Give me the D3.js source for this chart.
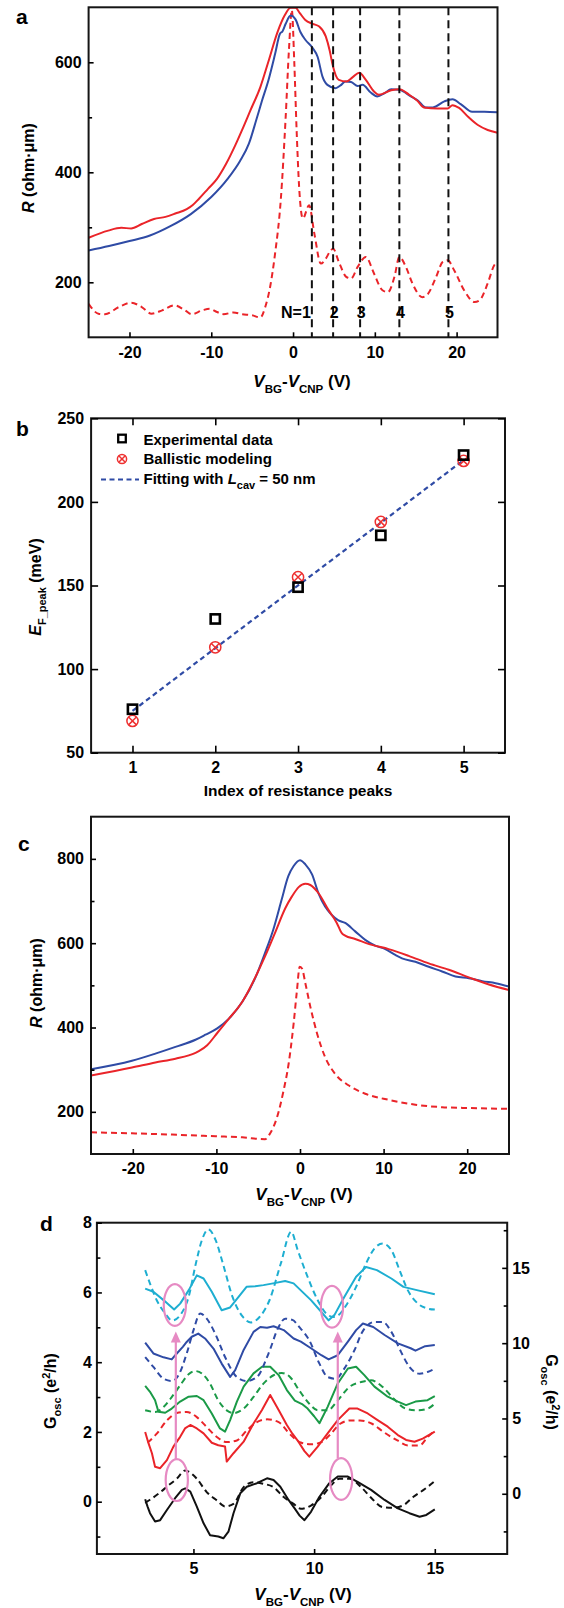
<!DOCTYPE html>
<html>
<head>
<meta charset="utf-8">
<script src="https://cdn.jsdelivr.net/npm/d3@7"></script>
<style>
  html, body { margin: 0; padding: 0; background: #fff; }
  svg { display: block; font-family: "Liberation Sans", Arial, Helvetica, sans-serif; font-weight: bold; }
</style>
</head>
<body>
<svg id="fig" width="564" height="1608"></svg>
<script>
// ---------- panel a: R vs gate voltage, L = 50 nm cavity ----------
const aMeasured = [[-25,258],[-22.5,266],[-20,275],[-17.5,285],[-15,302],[-12.5,324],[-10,355],[-8,388],[-6.5,420],[-5.4,452],[-4.5,495],[-3.8,530],[-3.0,568],[-2.2,615],[-1.6,652],[-1.3,656],[-0.9,670],[-0.3,685],[0.3,678],[0.9,655],[1.5,641],[2.4,626],[3.0,610],[3.6,574],[4.2,559],[5.2,553],[5.8,558],[6.4,565],[7.1,564],[7.9,557],[8.5,559],[9.5,545],[10.3,538],[11.2,544],[12,551],[13,550],[14.4,538],[15.3,530],[16.2,518],[17.1,518],[18.5,529],[19.5,533],[20.5,524],[21.9,510],[23.4,510],[25,509]];
const aModelTotal = [[-25,281],[-22.6,294],[-21,299],[-19.8,298],[-18.5,306],[-17,315],[-15.6,319],[-14.4,325],[-13,333],[-12.3,340],[-11.5,352],[-10.4,370],[-9.3,388],[-8.2,415],[-7.1,448],[-6.2,478],[-5.2,513],[-4,555],[-3,602],[-1.9,655],[-1,686],[-0.3,699],[0.3,699],[0.8,690],[1.5,677],[2.4,670],[3.2,665],[4.0,647],[4.5,620],[4.8,598],[5.6,568],[6.5,565],[7.3,573],[8.1,581],[8.9,568],[9.9,547],[10.5,541],[12,549],[13,551],[14.2,541],[15.2,530],[16,518],[17.7,516],[18.9,516],[19.5,522],[20.3,517],[21.4,501],[22.6,486],[23.8,477],[25,472]];
const aModelCavity = [[-25,161],[-23.8,143],[-23,142],[-21.3,155],[-19.8,163],[-18.5,155],[-17.3,143],[-16,149],[-14.5,158],[-13.2,149],[-12.4,142],[-11.1,149],[-10.2,152],[-9.3,146],[-8.5,142],[-7.3,145],[-6.2,142],[-5,140],[-4,136],[-3.4,155],[-2.8,192],[-2.2,252],[-1.5,350],[-0.9,501],[-0.5,623],[-0.15,695],[0.15,600],[0.45,471],[0.74,374],[1.2,316],[1.96,340],[2.6,289],[3.4,234],[4.0,243],[4.6,258],[4.9,261],[5.6,237],[6.5,210],[7.1,207],[7.9,228],[8.9,246],[9.9,216],[10.9,186],[11.6,182],[12.4,210],[13,246],[13.8,228],[14.6,198],[15.8,173],[16.5,179],[17.5,210],[18.3,237],[18.9,240],[19.7,222],[20.9,186],[22.2,164],[22.8,167],[23.8,198],[24.6,231],[25,237]];
const aPeakVolts = [2.3, 4.9, 8.2, 13.0, 19.0];
const aPeakLabels = ["N=1", "2", "3", "4", "5"];
const aYTicks = [200, 400, 600];
const aYMinor = [300, 500];
const aXTicks = [-20, -10, 0, 10, 20];

// ---------- panel b: peak Fermi energies ----------
const bIndex = [1, 2, 3, 4, 5];
const bExperiment = [76, 130, 149, 180, 228];
const bBallistic = [69, 113, 155, 188, 224.5];
const bFit = [[1, 75], [5, 225]];
const bYTicks = [50, 100, 150, 200, 250];

// ---------- panel c: R vs gate voltage, no cavity ----------
const cMeasured = [[-25,301],[-20.1,321],[-17.3,338],[-14.9,354],[-12.5,371],[-11.3,383],[-9.9,398],[-8.5,421],[-6.9,461],[-5.3,520],[-4.2,576],[-3.2,632],[-2.2,703],[-1.4,759],[-0.76,783],[0,797],[0.64,787],[1.44,763],[2.2,719],[3.0,687],[3.8,667],[4.6,654],[5.4,648],[6.6,628],[7.8,608],[9,594],[10.2,586],[11.4,572],[12.2,564],[13.8,556],[15.4,544],[17,533],[18.6,521],[20.2,517],[21.8,510],[23.4,505],[25,497]];
const cModelTotal = [[-25,286],[-20.1,305],[-17.3,317],[-14.9,326],[-12.5,340],[-12.1,344],[-11.1,358],[-9.9,387],[-8.5,421],[-6.9,461],[-5.3,521],[-4.2,568],[-3.0,624],[-1.76,683],[-0.96,711],[-0.16,733],[0.64,741],[1.24,738],[2.2,719],[3.4,679],[4.4,648],[5.0,624],[5.4,618],[6.6,610],[8.6,596],[10.6,586],[13,570],[15.4,552],[17.8,537],[20.2,519],[22.6,502],[25,489]];
const cModelJunction = [[-25,151.5],[-20.1,149],[-15.3,146],[-10.1,142],[-6.9,139.6],[-4.2,135],[-3.6,148],[-2.75,187],[-1.96,251],[-1.36,314],[-0.76,410],[-0.36,489],[-0.04,544],[0.24,540],[0.64,505],[1.24,449],[2.04,386],[3.0,330],[4.2,290],[5.8,263],[7.8,243],[10.6,228.5],[13.8,217],[17,211],[20.2,209],[25,207]];
const cYTicks = [200, 400, 600, 800];
const cYMinor = [300, 500, 700];

// ---------- panel d: oscillating conductance (solid: left axis, dashed: right axis) ----------
const dCyanExp = [[3.0,6.11],[3.34,6.02],[3.76,5.78],[4.2,5.51],[4.45,5.68],[4.8,6.06],[5.14,6.49],[5.42,6.40],[5.76,6.02],[6.17,5.49],[6.52,5.57],[6.87,5.87],[7.2,6.16],[7.56,6.18],[7.9,6.21],[8.3,6.26],[8.8,6.33],[9.15,6.26],[9.45,6.06],[9.87,5.78],[10.3,5.44],[10.6,5.2],[10.84,5.35],[11.25,5.87],[11.74,6.45],[12.15,6.73],[12.6,6.64],[13.2,6.40],[13.7,6.16],[14.3,6.06],[15,5.95]];
const dCyanSim = [[3.0,14.85],[3.2,13.96],[3.48,12.85],[3.83,11.97],[4.12,11.5],[4.5,11.97],[4.8,13.07],[5.1,15.29],[5.35,16.84],[5.62,17.55],[5.92,16.84],[6.22,15.29],[6.62,13.07],[7.05,11.74],[7.38,11.38],[7.74,11.74],[8.15,12.85],[8.62,15.29],[9.05,17.4],[9.32,16.18],[9.73,14.4],[10.15,12.85],[10.5,11.97],[10.8,11.74],[11.0,11.85],[11.33,12.52],[11.74,13.74],[12.15,15.29],[12.5,16.29],[12.84,16.62],[13.2,16.18],[13.54,14.85],[13.88,13.52],[14.3,12.63],[14.7,12.3],[15,12.23]];
const dBlueExp = [[3.0,4.56],[3.34,4.25],[3.76,4.14],[4.1,4.08],[4.31,4.25],[4.56,4.44],[4.72,4.58],[4.93,4.73],[5.2,4.82],[5.48,4.68],[5.83,4.39],[6.17,3.96],[6.52,3.58],[6.73,3.77],[7.08,4.35],[7.49,4.87],[7.77,5.01],[8.05,4.99],[8.32,5.03],[8.74,4.92],[9.15,4.68],[9.45,4.59],[9.87,4.4],[10.3,4.2],[10.6,4.08],[10.98,4.2],[11.4,4.59],[11.74,4.92],[12.02,5.11],[12.45,5.01],[12.92,4.78],[13.47,4.54],[14.0,4.4],[14.2,4.33],[14.6,4.46],[15,4.49]];
const dBlueSim = [[3.0,9.08],[3.34,8.42],[3.76,7.64],[4.1,7.49],[4.38,7.87],[4.72,9.31],[5.0,10.85],[5.28,11.97],[5.55,11.63],[5.9,10.64],[6.31,9.08],[6.8,7.75],[7.21,7.49],[7.63,7.75],[8.11,9.31],[8.53,11.08],[8.8,11.63],[9.1,11.55],[9.38,11.08],[9.8,10.19],[10.22,8.64],[10.56,7.75],[10.9,7.64],[11.25,8.31],[11.67,9.53],[12.0,10.75],[12.5,11.41],[12.84,11.41],[13.2,10.75],[13.6,9.42],[13.95,8.42],[14.37,7.97],[14.7,8.09],[15,8.31]];
const dGreenExp = [[3.0,3.32],[3.2,3.15],[3.41,2.91],[3.55,2.58],[3.83,2.55],[4.1,2.67],[4.45,2.87],[4.8,3.01],[5.14,3.03],[5.42,2.91],[5.76,2.53],[6.1,2.1],[6.31,2.01],[6.52,2.34],[6.8,2.87],[7.08,3.3],[7.49,3.68],[7.84,3.87],[8.18,3.87],[8.53,3.63],[8.87,3.2],[9.2,2.9],[9.5,2.8],[9.73,2.67],[10.0,2.45],[10.22,2.25],[10.56,2.72],[10.98,3.39],[11.4,3.82],[11.74,3.87],[12.08,3.63],[12.5,3.3],[13.05,3.01],[13.47,2.87],[13.81,2.77],[14.2,2.87],[14.7,2.91],[15,3.03]];
const dGreenSim = [[3.0,5.54],[3.41,5.43],[3.76,5.76],[4.1,6.42],[4.45,7.2],[4.8,7.93],[5.07,8.15],[5.35,7.98],[5.69,7.31],[6.03,6.2],[6.38,5.54],[6.66,5.36],[7.08,5.65],[7.49,6.43],[7.9,7.31],[8.32,7.87],[8.66,8.02],[9.0,7.76],[9.38,6.87],[9.8,5.98],[10.15,5.54],[10.56,5.54],[10.98,6.2],[11.46,7.09],[11.95,7.42],[12.36,7.53],[12.84,7.09],[13.3,6.31],[13.8,5.65],[14.3,5.54],[14.7,5.65],[15,5.98]];
const dRedExp = [[3.0,2.0],[3.14,1.67],[3.28,1.39],[3.41,1.0],[3.62,0.96],[3.9,1.19],[4.17,1.58],[4.45,1.86],[4.65,2.1],[4.87,2.2],[5.14,2.1],[5.42,1.96],[5.76,1.69],[6.03,1.62],[6.31,1.58],[6.38,1.15],[6.66,1.39],[7.08,1.72],[7.49,2.24],[7.84,2.63],[8.18,3.06],[8.53,2.63],[8.87,2.2],[9.1,1.95],[9.35,1.72],[9.6,1.45],[9.8,1.29],[10.15,1.58],[10.56,1.96],[10.98,2.34],[11.46,2.67],[11.8,2.67],[12.22,2.53],[12.63,2.34],[13.05,2.15],[13.47,1.91],[13.81,1.77],[14.16,1.72],[14.5,1.81],[15,2.01]];
const dRedSim = [[3.1,3.4],[3.48,3.99],[3.9,4.87],[4.31,5.36],[4.72,5.43],[5.14,5.09],[5.55,4.43],[5.97,3.77],[6.38,3.43],[6.8,3.54],[7.21,4.21],[7.63,4.76],[8.05,4.94],[8.53,4.76],[9.0,3.95],[9.45,3.4],[9.87,3.28],[10.3,3.43],[10.7,3.99],[11.08,4.65],[11.5,4.87],[11.9,4.87],[12.4,4.65],[12.88,4.1],[13.45,3.54],[13.9,3.21],[14.37,3.21],[14.7,3.76],[15,4.21]];
const dBlackExp = [[3.0,0.07],[3.1,-0.14],[3.2,-0.33],[3.41,-0.57],[3.62,-0.53],[3.9,-0.24],[4.24,0.1],[4.52,0.34],[4.66,0.38],[4.87,0.29],[5.14,-0.14],[5.42,-0.62],[5.69,-0.96],[6.03,-1.0],[6.24,-1.05],[6.45,-0.86],[6.66,-0.33],[6.94,0.24],[7.21,0.43],[7.63,0.53],[8.05,0.67],[8.32,0.62],[8.6,0.43],[8.94,0.05],[9.2,-0.2],[9.4,-0.4],[9.6,-0.53],[9.87,-0.29],[10.22,0.14],[10.63,0.53],[10.98,0.72],[11.4,0.72],[11.8,0.57],[12.36,0.34],[12.92,0.05],[13.47,-0.19],[13.95,-0.33],[14.37,-0.43],[14.65,-0.38],[15,-0.22]];
const dBlackSim = [[3.0,-0.6],[3.2,-0.4],[3.55,0],[3.96,0.55],[4.31,1.0],[4.66,1.55],[4.87,1.4],[5.14,1.0],[5.55,0.11],[5.97,-0.44],[6.31,-0.84],[6.66,-0.67],[7.08,0.44],[7.49,0.77],[7.9,0.66],[8.32,0.44],[8.74,-0.22],[9.15,-0.67],[9.45,-1.0],[9.87,-0.78],[10.3,-0.22],[10.7,0.55],[11.05,1.0],[11.46,1.0],[11.95,0.44],[12.4,-0.33],[12.84,-0.89],[13.27,-0.93],[13.68,-0.78],[14.1,-0.22],[14.6,0.33],[15,0.84]];
// ring centres (V, left-axis units) and arrows (V, from, to) marking the tracked minima
const dRings = [[4.23, 5.64], [4.31, 0.62], [10.74, 5.59], [11.12, 0.65]];
const dArrows = [[4.27, 1.22, 4.88], [10.98, 1.25, 4.88]];
const dRingSize = [0.46, 0.6];
const dLeftTicks = [0, 2, 4, 6, 8];
const dLeftMinor = [-1, 1, 3, 5, 7];
const dRightTicks = [0, 5, 10, 15];
const dRightMinor = [-2.5, 2.5, 7.5, 12.5, 17.5];
const dXTicks = [5, 10, 15];

// ---------- drawing ----------
const FONT = '"Liberation Sans", Arial, Helvetica, sans-serif';
const RED = "#ea2429", BLUE = "#2f4ba5", CYAN = "#1eaed1", GREEN = "#1b9a47", BLACK = "#111", PINK = "#e68ac3";
const svg = d3.select("#fig");
svg.append("rect").attr("width", 564).attr("height", 1608).attr("fill", "#fff");

function plotArea(name, b) {
  svg.append("clipPath").attr("id", name).append("rect")
    .attr("x", b.x0).attr("y", b.y0).attr("width", b.x1 - b.x0).attr("height", b.y1 - b.y0);
  return svg.append("g").attr("clip-path", `url(#${name})`);
}
function drawFrame(b) {
  svg.append("rect").attr("x", b.x0).attr("y", b.y0)
    .attr("width", b.x1 - b.x0).attr("height", b.y1 - b.y0)
    .attr("fill", "none").attr("stroke", "#151515").attr("stroke-width", 2);
}
function styleAxis(g) {
  g.attr("font-family", FONT).attr("font-size", 16).attr("font-weight", "bold").attr("color", "#000");
  g.select(".domain").remove();
  g.selectAll(".tick line").attr("stroke-width", 1.6);
}
const fmt = d => String(d);
function axisAt(gen, tx, ty) {
  svg.append("g").attr("transform", `translate(${tx},${ty})`).call(gen).call(styleAxis);
}
function panelLetter(t, x, y) {
  svg.append("text").attr("x", x).attr("y", y).attr("font-size", 21).text(t);
}
function gateTitle(x, y) {
  const t = svg.append("text").attr("x", x).attr("y", y).attr("text-anchor", "middle").attr("font-size", 17);
  t.append("tspan").attr("font-style", "italic").text("V");
  t.append("tspan").attr("font-size", 11.5).attr("dy", 6).text("BG");
  t.append("tspan").attr("dy", -6).text("-");
  t.append("tspan").attr("font-style", "italic").text("V");
  t.append("tspan").attr("font-size", 11.5).attr("dy", 6).text("CNP");
  t.append("tspan").attr("dy", -6).text(" (V)");
}
function resistanceTitle(x, y) {
  const t = svg.append("text").attr("transform", `translate(${x},${y}) rotate(-90)`)
    .attr("text-anchor", "middle").attr("font-size", 16);
  t.append("tspan").attr("font-style", "italic").text("R");
  t.append("tspan").text(" (ohm\u00b7\u03bcm)");
}
function conductanceTitle(x, y, angle) {
  const t = svg.append("text").attr("transform", `translate(${x},${y}) rotate(${angle})`)
    .attr("text-anchor", "middle").attr("font-size", 16);
  t.append("tspan").text("G");
  t.append("tspan").attr("font-size", 11).attr("dy", 5).text("osc");
  t.append("tspan").attr("dy", -5).text(" (e");
  t.append("tspan").attr("font-size", 11).attr("dy", -6).text("2");
  t.append("tspan").attr("dy", 6).text("/h)");
}
function curve(g, data, x, y, color, dashed, smooth) {
  const line = d3.line().x(d => x(d[0])).y(d => y(d[1]))
    .curve(smooth ? d3.curveMonotoneX : d3.curveLinear);
  g.append("path").datum(data).attr("d", line).attr("fill", "none")
    .attr("stroke", color).attr("stroke-width", 2)
    .attr("stroke-linejoin", "round")
    .attr("stroke-dasharray", dashed ? "6,4" : null);
}

// ===== panel a =====
{
  const b = { x0: 88.6, x1: 497.5, y0: 7.3, y1: 337.3 };
  const x = d3.scaleLinear().domain([-25, 25]).range([b.x0, b.x1]);
  const y = d3.scaleLinear().domain([100, 700]).range([b.y1, b.y0]);
  const g = plotArea("clipA", b);
  curve(g, aModelCavity, x, y, RED, true, true);
  curve(g, aMeasured, x, y, BLUE, false, true);
  curve(g, aModelTotal, x, y, RED, false, true);
  g.selectAll("line.peak").data(aPeakVolts).join("line").attr("class", "peak")
    .attr("x1", d => x(d)).attr("x2", d => x(d)).attr("y1", b.y0).attr("y2", b.y1)
    .attr("stroke", "#111").attr("stroke-width", 2).attr("stroke-dasharray", "8,5");
  svg.selectAll("text.peaklab").data(aPeakVolts).join("text").attr("class", "peaklab")
    .attr("x", (d, i) => i === 0 ? x(d) - 1 : x(d) + 1)
    .attr("y", y(136))
    .attr("text-anchor", (d, i) => i === 0 ? "end" : "middle")
    .attr("font-size", 16)
    .text((d, i) => aPeakLabels[i]);
  drawFrame(b);
  axisAt(d3.axisLeft(y).tickValues(aYTicks).tickFormat(fmt).tickSizeInner(-5).tickSizeOuter(0).tickPadding(7), b.x0, 0);
  axisAt(d3.axisLeft(y).tickValues(aYMinor).tickFormat("").tickSizeInner(-3.5).tickSizeOuter(0), b.x0, 0);
  axisAt(d3.axisBottom(x).tickValues(aXTicks).tickFormat(fmt).tickSizeInner(-5).tickSizeOuter(0).tickPadding(9), 0, b.y1);
  resistanceTitle(34, 168);
  gateTitle(302, 387);
  panelLetter("a", 16, 24);
}

// ===== panel b =====
{
  const b = { x0: 91.1, x1: 505, y0: 418.3, y1: 752.7 };
  const x = d3.scaleLinear().domain([0.5, 5.5]).range([b.x0, b.x1]);
  const y = d3.scaleLinear().domain([50, 250]).range([b.y1, b.y0]);
  const g = plotArea("clipB", b);
  g.append("path").datum(bFit)
    .attr("d", d3.line().x(d => x(d[0])).y(d => y(d[1])))
    .attr("fill", "none").attr("stroke", BLUE).attr("stroke-width", 2.2).attr("stroke-dasharray", "5,3.5");
  const crossMark = (sel, cx, cy, r) => {
    sel.append("circle").attr("cx", cx).attr("cy", cy).attr("r", r)
      .attr("fill", "none").attr("stroke", "#ee3030").attr("stroke-width", 1.5);
    const k = r * 0.7;
    sel.append("path").attr("d", `M${cx - k},${cy - k}L${cx + k},${cy + k}M${cx - k},${cy + k}L${cx + k},${cy - k}`)
      .attr("stroke", "#ee3030").attr("stroke-width", 1.5);
  };
  bIndex.forEach((n, i) => crossMark(g, x(n), y(bBallistic[i]), 5.6));
  g.selectAll("rect.exp").data(bIndex).join("rect").attr("class", "exp")
    .attr("x", d => x(d) - 4.6).attr("y", (d, i) => y(bExperiment[i]) - 4.6)
    .attr("width", 9.2).attr("height", 9.2)
    .attr("fill", "none").attr("stroke", "#000").attr("stroke-width", 2.6);
  drawFrame(b);
  axisAt(d3.axisLeft(y).tickValues(bYTicks).tickFormat(fmt).tickSizeInner(-7).tickSizeOuter(0).tickPadding(7), b.x0, 0);
  axisAt(d3.axisRight(y).tickValues(bYTicks).tickFormat("").tickSizeInner(-7).tickSizeOuter(0), b.x1, 0);
  axisAt(d3.axisBottom(x).tickValues(bIndex).tickFormat(fmt).tickSizeInner(-7).tickSizeOuter(0).tickPadding(9), 0, b.y1);
  axisAt(d3.axisTop(x).tickValues(bIndex).tickFormat("").tickSizeInner(-7).tickSizeOuter(0), 0, b.y0);

  // legend
  const lx = 122, tx = 143.5;
  svg.append("rect").attr("x", lx - 3.8).attr("y", 438.5 - 3.8).attr("width", 7.6).attr("height", 7.6)
    .attr("fill", "none").attr("stroke", "#000").attr("stroke-width", 2.3);
  svg.append("text").attr("x", tx).attr("y", 445).attr("font-size", 15).text("Experimental data");
  crossMark(svg, lx, 459, 4.6);
  svg.append("text").attr("x", tx).attr("y", 464).attr("font-size", 15).text("Ballistic modeling");
  svg.append("line").attr("x1", 101).attr("x2", 139).attr("y1", 479.5).attr("y2", 479.5)
    .attr("stroke", BLUE).attr("stroke-width", 2.2).attr("stroke-dasharray", "5,3.5");
  const ft = svg.append("text").attr("x", tx).attr("y", 484).attr("font-size", 15);
  ft.append("tspan").text("Fitting with ");
  ft.append("tspan").attr("font-style", "italic").text("L");
  ft.append("tspan").attr("font-size", 11).attr("dy", 5).text("cav");
  ft.append("tspan").attr("dy", -5).text(" = 50 nm");

  const yt = svg.append("text").attr("transform", "translate(41,587) rotate(-90)")
    .attr("text-anchor", "middle").attr("font-size", 16);
  yt.append("tspan").attr("font-style", "italic").text("E");
  yt.append("tspan").attr("font-size", 11).attr("dy", 5).text("F_peak");
  yt.append("tspan").attr("dy", -5).text(" (meV)");
  svg.append("text").attr("x", 298).attr("y", 796).attr("text-anchor", "middle").attr("font-size", 15.5)
    .text("Index of resistance peaks");
  panelLetter("b", 16, 436);
}

// ===== panel c =====
{
  const b = { x0: 91, x1: 509, y0: 816.7, y1: 1154 };
  const x = d3.scaleLinear().domain([-25, 25]).range([b.x0, b.x1]);
  const y = d3.scaleLinear().domain([100, 900]).range([b.y1, b.y0]);
  const g = plotArea("clipC", b);
  curve(g, cModelJunction, x, y, RED, true, true);
  curve(g, cMeasured, x, y, BLUE, false, true);
  curve(g, cModelTotal, x, y, RED, false, true);
  drawFrame(b);
  axisAt(d3.axisLeft(y).tickValues(cYTicks).tickFormat(fmt).tickSizeInner(-5).tickSizeOuter(0).tickPadding(7), b.x0, 0);
  axisAt(d3.axisLeft(y).tickValues(cYMinor).tickFormat("").tickSizeInner(-3.5).tickSizeOuter(0), b.x0, 0);
  axisAt(d3.axisBottom(x).tickValues(aXTicks).tickFormat(fmt).tickSizeInner(-5).tickSizeOuter(0).tickPadding(9), 0, b.y1);
  resistanceTitle(42, 983);
  gateTitle(304, 1200);
  panelLetter("c", 18, 851);
}

// ===== panel d =====
{
  const b = { x0: 96.9, x1: 507.2, y0: 1222.7, y1: 1554 };
  const x = d3.scaleLinear().domain([1, 18]).range([b.x0, b.x1]);
  const yL = d3.scaleLinear().domain([-1.5, 8]).range([b.y1, b.y0]);
  const yR = d3.scaleLinear().domain([-4, 18]).range([b.y1, b.y0]);
  const g = plotArea("clipD", b);
  const pairs = [
    [dBlackSim, dBlackExp, BLACK], [dRedSim, dRedExp, RED], [dGreenSim, dGreenExp, GREEN],
    [dBlueSim, dBlueExp, BLUE], [dCyanSim, dCyanExp, CYAN]
  ];
  pairs.forEach(([sim, exp, col]) => {
    curve(g, sim, x, yR, col, true, true);
    curve(g, exp, x, yL, col, false, false);
  });
  // rings and arrows
  g.selectAll("ellipse.ring").data(dRings).join("ellipse").attr("class", "ring")
    .attr("cx", d => x(d[0])).attr("cy", d => yL(d[1]))
    .attr("rx", d => x(d[0] + dRingSize[0]) - x(d[0]))
    .attr("ry", d => yL(d[1]) - yL(d[1] + dRingSize[1]))
    .attr("fill", "none").attr("stroke", PINK).attr("stroke-width", 2.2);
  dArrows.forEach(([v, from, to]) => {
    const ax = x(v), tip = yL(to);
    g.append("line").attr("x1", ax).attr("x2", ax).attr("y1", yL(from)).attr("y2", tip + 8)
      .attr("stroke", PINK).attr("stroke-width", 2.2);
    g.append("path").attr("d", `M${ax},${tip}L${ax - 5},${tip + 11}L${ax + 5},${tip + 11}Z`).attr("fill", PINK);
  });
  drawFrame(b);
  axisAt(d3.axisLeft(yL).tickValues(dLeftTicks).tickFormat(fmt).tickSizeInner(-5).tickSizeOuter(0).tickPadding(5), b.x0, 0);
  axisAt(d3.axisLeft(yL).tickValues(dLeftMinor).tickFormat("").tickSizeInner(-3.5).tickSizeOuter(0), b.x0, 0);
  axisAt(d3.axisRight(yR).tickValues(dRightTicks).tickFormat(fmt).tickSizeInner(-5).tickSizeOuter(0).tickPadding(5), b.x1, 0);
  axisAt(d3.axisRight(yR).tickValues(dRightMinor).tickFormat("").tickSizeInner(-3.5).tickSizeOuter(0), b.x1, 0);
  axisAt(d3.axisBottom(x).tickValues(dXTicks).tickFormat(fmt).tickSizeInner(-5).tickSizeOuter(0).tickPadding(9), 0, b.y1);
  conductanceTitle(56, 1391, -90);
  conductanceTitle(546, 1392, 90);
  gateTitle(303, 1600);
  panelLetter("d", 40, 1231);
}
</script>
</body>
</html>
